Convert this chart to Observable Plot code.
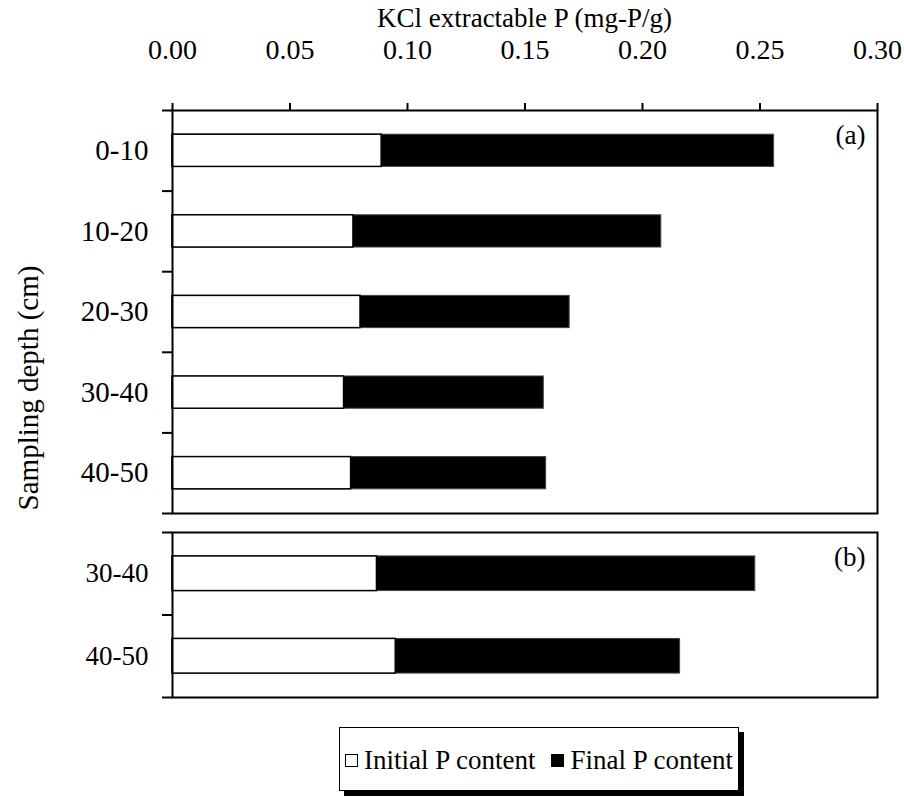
<!DOCTYPE html>
<html>
<head>
<meta charset="utf-8">
<script src="https://cdn.jsdelivr.net/npm/d3@7"></script>
<script src="https://cdn.jsdelivr.net/npm/@observablehq/plot@0.6"></script>
<style>
  html, body { margin: 0; padding: 0; background: #fff; }
  #wrap { position: relative; width: 904px; height: 798px; font-family: "Liberation Serif", Tinos, "Times New Roman", "DejaVu Serif", serif; color: #000; }
  #wrap svg { display: block; }
  .abs { position: absolute; }
  #title { left: 172px; width: 705px; top: 3px; text-align: center; font-size: 27px; line-height: 30px; }
  #ytitle { left: 28px; top: 388px; font-size: 29px; line-height: 32px; white-space: nowrap; transform: translate(-50%, -50%) rotate(-90deg); }
  #legend { left: 339px; top: 727px; width: 400px; height: 64px; border: 1.5px solid #000; box-shadow: 5px 5px 0 #000; background: #fff;
            display: flex; align-items: center; justify-content: center; font-size: 27px; box-sizing: border-box; padding-top: 3px; }
  .sw { display: inline-block; width: 13px; height: 13px; border: 1px solid #000; box-sizing: border-box; margin-right: 6px; }
  .item { display: flex; align-items: center; white-space: nowrap; }
</style>
</head>
<body>
<div id="wrap">
  <div id="plotA" class="abs" style="left:0;top:0"></div>
  <div id="plotB" class="abs" style="left:0;top:515px"></div>
  <div id="title" class="abs">KCl extractable P (mg-P/g)</div>
  <div id="ytitle" class="abs">Sampling depth (cm)</div>
  <div id="legend" class="abs"></div>
</div>
<script>
// ---- data ----
const xTicks = [0, 0.05, 0.10, 0.15, 0.20, 0.25, 0.30];
const depthsA = ["0-10", "10-20", "20-30", "30-40", "40-50"];
const initialA = [0.089, 0.077, 0.080, 0.073, 0.076];
const finalA = [0.256, 0.208, 0.169, 0.158, 0.159];
const depthsB = ["30-40", "40-50"];
const initialB = [0.087, 0.095];
const finalB = [0.248, 0.216];
const panelLabels = ["(a)", "(b)"];
const seriesNames = ["Initial P content", "Final P content"];
const seriesFill = ["#fff", "#000"];

const FONT = "Liberation Serif, Tinos, Times New Roman, DejaVu Serif, serif";

const rowsA = depthsA.map((d, i) => ({depth: d, i, initial: initialA[i], final: finalA[i]}));
const rowsB = depthsB.map((d, i) => ({depth: d, i, initial: initialB[i], final: finalB[i]}));

function panel(rows, depths, opts) {
  const n = depths.length;
  const bounds = d3.range(n + 1);
  const centers = depths.map((d, i) => i + 0.5);
  const marks = [
    Plot.rect(rows, {x1: 0, x2: "final", y1: d => d.i + opts.pad, y2: d => d.i + 1 - opts.pad, fill: seriesFill[1], stroke: "#444", strokeWidth: 1}),
    Plot.rect(rows, {x1: 0, x2: "initial", y1: d => d.i + opts.pad, y2: d => d.i + 1 - opts.pad, fill: seriesFill[0], stroke: "#000", strokeWidth: 1.5}),
    Plot.frame({stroke: "#000", strokeWidth: 2}),
    Plot.axisY({ticks: bounds, tickSize: 10, tickFormat: () => "", strokeWidth: 2, label: null}),
    Plot.axisY({ticks: centers, tickSize: 0, tickPadding: 24, tickFormat: v => depths[Math.floor(v)], label: null, fontSize: opts.labelSize, fontFamily: FONT}),
    Plot.text([opts.letter], {frameAnchor: "top-right", dx: -12, dy: 14, lineAnchor: "top", textAnchor: "end", fontSize: 27, fontFamily: FONT, fill: "#000"})
  ];
  if (opts.topAxis) {
    marks.push(Plot.axisX({anchor: "top", ticks: xTicks, tickSize: 8, tickPadding: 44, tickFormat: d3.format(".2f"), strokeWidth: 2, label: null, fontSize: 28, fontFamily: FONT}));
  }
  return Plot.plot({
    width: 904,
    height: opts.height,
    marginLeft: 172,
    marginRight: 27,
    marginTop: opts.marginTop,
    marginBottom: opts.marginBottom,
    style: {fontFamily: FONT, fontSize: "28px", color: "#000", background: "transparent", overflow: "visible"},
    x: {domain: [0, 0.3], axis: opts.topAxis ? undefined : null},
    y: {domain: [0, n], reverse: true},
    marks
  });
}

document.getElementById("plotA").append(panel(rowsA, depthsA, {height: 515, marginTop: 110, marginBottom: 2, pad: 0.3, labelSize: 29, letter: panelLabels[0], topAxis: true}));
document.getElementById("plotB").append(panel(rowsB, depthsB, {height: 184, marginTop: 17, marginBottom: 2, pad: 0.29, labelSize: 27, letter: panelLabels[1], topAxis: false}));

// legend
const leg = document.getElementById("legend");
seriesNames.forEach((name, k) => {
  const item = document.createElement("span");
  item.className = "item";
  if (k > 0) item.style.marginLeft = "16px";
  const sw = document.createElement("span");
  sw.className = "sw";
  sw.style.background = seriesFill[k];
  item.append(sw, document.createTextNode(name));
  leg.append(item);
});
</script>
</body>
</html>
